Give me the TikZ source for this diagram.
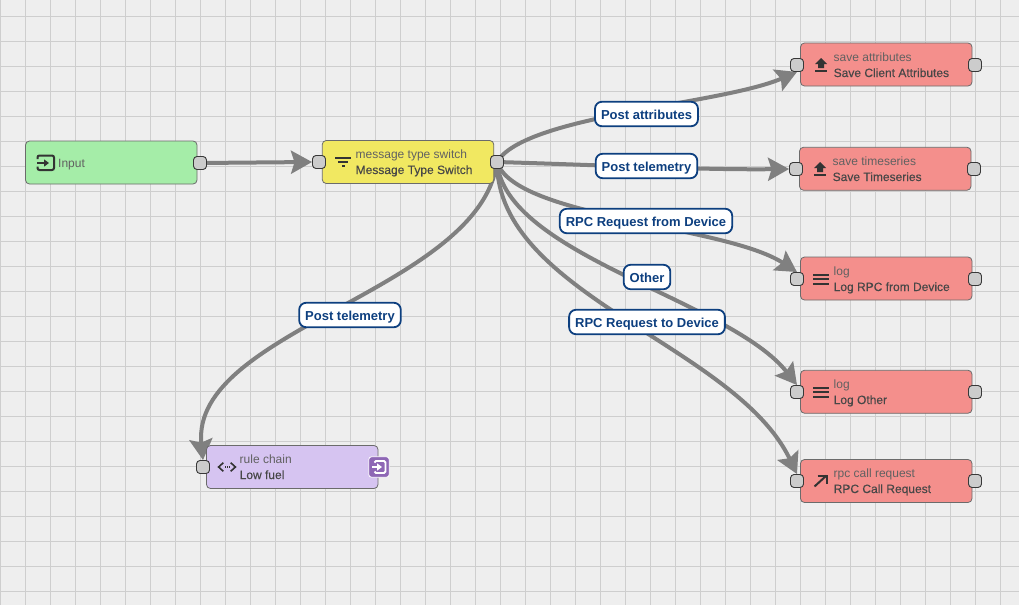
\documentclass[tikz,border=0pt]{standalone}
\usepackage{fontspec}
\setmainfont{Liberation Sans}
\newfontfamily\mediumfont[FakeBold=0.25]{Liberation Sans}
\usetikzlibrary{arrows.meta}
\pgfdeclarelayer{gridlayer}
\pgfdeclarelayer{wirelayer}
\pgfsetlayers{gridlayer,wirelayer,main}
\definecolor{canvasbg}{HTML}{EEEEEE}
\definecolor{gridgray}{HTML}{CECECE}
\definecolor{inputgreen}{HTML}{A5EDA8}
\definecolor{switchyellow}{HTML}{F1E861}
\definecolor{actionred}{HTML}{F48F8C}
\definecolor{chainpurple}{HTML}{D6C4F1}
\definecolor{badgepurple}{HTML}{8E67B5}
\definecolor{labelblue}{HTML}{0D3F7F}
\tikzset{
  ruleBox/.style={draw=black!58,line width=0.8,rounded corners=4,minimum width=171.5,minimum height=43,inner sep=0},
  port/.style={draw=black!78,line width=0.9,fill=black!20,rounded corners=3.5,minimum size=13,inner sep=0},
  wire/.style={draw=black!50,line width=4,-{Stealth[length=21,width=23,inset=3.5]}},
  wireLabel/.style={draw=labelblue,line width=1.8,fill=white,text=labelblue,rounded corners=7,minimum height=24.5,inner xsep=6,inner ysep=0,text height=11,text depth=1,font=\fontsize{13}{15}\selectfont\bfseries},
  kindText/.style={anchor=base west,inner sep=0,text=black!62,font=\fontsize{12}{14}\selectfont},
  titleText/.style={anchor=base west,inner sep=0,text=black!72,font=\fontsize{12}{14}\mediumfont},
  iconLine/.style={draw=black!80,line width=2},
  uploadIcon/.pic={
    \fill[black!80] (0,-7) -- (6,-1) -- (3,-1) -- (3,3) -- (-3,3) -- (-3,-1) -- (-6,-1) -- cycle;
    \draw[iconLine] (-6,5.5) -- (6,5.5);
  },
  menuIcon/.pic={
    \draw[iconLine] (-8,-4.5) -- (8,-4.5);
    \draw[iconLine] (-8,0) -- (8,0);
    \draw[iconLine] (-8,4.5) -- (8,4.5);
  }
}
\begin{document}
\begin{tikzpicture}[x=1pt,y=-1pt]
\useasboundingbox (0,0) rectangle (1019,605);
\begin{pgfonlayer}{gridlayer}
\fill[canvasbg] (0,0) rectangle (1019,605);
\foreach \gx in {0,...,40}
  \draw[gridgray,line width=0.8] (0.5+25*\gx,0) -- (0.5+25*\gx,605);
\foreach \gy in {0,...,23}
  \draw[gridgray,line width=0.8] (0,16.5+25*\gy) -- (1019,16.5+25*\gy);
\end{pgfonlayer}

% boxes
\node (inputBox) [ruleBox,fill=inputgreen] at (111.25,162.5) {};
\node (switchBox) [ruleBox,fill=switchyellow] at (408,162) {};
\node (attrBox) [ruleBox,fill=actionred] at (886.25,64.5) {};
\node (seriesBox) [ruleBox,fill=actionred] at (885.25,168.75) {};
\node (logRpcBox) [ruleBox,fill=actionred] at (886.25,278.5) {};
\node (logOtherBox) [ruleBox,fill=actionred] at (886.25,391.75) {};
\node (callBox) [ruleBox,fill=actionred] at (886.25,481) {};
\node (chainBox) [ruleBox,fill=chainpurple] at (292.25,467) {};

% ports
\node (inputOut) [port] at (200,163) {};
\node (switchIn) [port] at (319,162) {};
\node (switchOut) [port] at (497,162) {};
\node (attrIn) [port] at (797,65) {};
\node (attrOut) [port] at (975,65) {};
\node (seriesIn) [port] at (796,169) {};
\node (seriesOut) [port] at (974,169) {};
\node (logRpcIn) [port] at (797,279) {};
\node (logRpcOut) [port] at (975,279) {};
\node (logOtherIn) [port] at (797,392) {};
\node (logOtherOut) [port] at (975,392) {};
\node (callIn) [port] at (797,481) {};
\node (callOut) [port] at (975,481) {};
\node (chainIn) [port] at (203,467) {};

% connectors
\begin{pgfonlayer}{wirelayer}
\draw[wire] (inputOut.center) -- (switchIn.west);
\draw[wire] (switchOut.center) .. controls (525,115) and (720,105) .. (attrIn.south);
\draw[wire] (switchOut.center) .. controls (600,165) and (700,170) .. (seriesIn.west);
\draw[wire] (switchOut.center) .. controls (515,218) and (725,225) .. (logRpcIn.north);
\draw[wire] (switchOut.center) .. controls (505,255) and (730,300) .. (logOtherIn.north);
\draw[wire] (switchOut.center) .. controls (497,295) and (735,345) .. (callIn.north);
\draw[wire] (switchOut.center) .. controls (480,290) and (190,330) .. (chainIn.north);
\end{pgfonlayer}

% wire labels
\node (attrLabel) [wireLabel] at (646.5,114) {Post attributes};
\node (seriesLabel) [wireLabel] at (646.5,166) {Post telemetry};
\node (fromDevLabel) [wireLabel] at (646,221) {RPC Request from Device};
\node (otherLabel) [wireLabel] at (647,277) {Other};
\node (toDevLabel) [wireLabel] at (647,322) {RPC Request to Device};
\node (chainLabel) [wireLabel] at (350,315) {Post telemetry};

% texts
\node (inputKind) [kindText] at (58,167) {Input};
\node (switchKind) [kindText] at (355.5,158) {message type switch};
\node (switchTitle) [titleText] at (355.5,174) {Message Type Switch};
\node (attrKind) [kindText] at (833.5,61) {save attributes};
\node (attrTitle) [titleText] at (833.5,77) {Save Client Attributes};
\node (seriesKind) [kindText] at (832.5,165) {save timeseries};
\node (seriesTitle) [titleText] at (832.5,181) {Save Timeseries};
\node (logRpcKind) [kindText] at (833.5,275) {log};
\node (logRpcTitle) [titleText] at (833.5,291) {Log RPC from Device};
\node (logOtherKind) [kindText] at (833.5,388) {log};
\node (logOtherTitle) [titleText] at (833.5,404) {Log Other};
\node (callKind) [kindText] at (833.5,477) {rpc call request};
\node (callTitle) [titleText] at (833.5,493) {RPC Call Request};
\node (chainKind) [kindText] at (239.5,463) {rule chain};
\node (chainTitle) [titleText] at (239.5,479) {Low fuel};

% icons
\draw[iconLine,rounded corners=2] (37.5,159) -- (37.5,155.5) -- (54,155.5) -- (54,170) -- (37.5,170) -- (37.5,166.5);
\draw[iconLine,-{Stealth[length=5,width=7,inset=0]}] (37,163) -- (49,163);
\draw[iconLine] (335,157.5) -- (351,157.5);
\draw[iconLine] (338,161.5) -- (348,161.5);
\draw[iconLine] (342,165.5) -- (345,165.5);
\pic at (821,65) {uploadIcon};
\pic at (820,169) {uploadIcon};
\pic at (821,279) {menuIcon};
\pic at (821,392) {menuIcon};
\draw[iconLine] (814.5,486.5) -- (826.5,475.5);
\draw[iconLine] (817.5,475.5) -- (826.5,475.5) -- (826.5,484);
\draw[iconLine,line width=1.6] (223.3,462.7) -- (218.6,467) -- (223.3,471.3);
\draw[iconLine,line width=1.6] (230.7,462.7) -- (235.4,467) -- (230.7,471.3);
\foreach \dx in {225,227,229}
  \fill[black!80] (\dx,466.3) rectangle (\dx+1,467.7);
\draw[white,fill=badgepurple,line width=0.8,rounded corners=3] (368.7,456.7) rectangle (389.3,477.3);
\draw[white,line width=1.8,rounded corners=1.5] (374.5,462.5) -- (374.5,461) -- (385.5,461) -- (385.5,473) -- (374.5,473) -- (374.5,471.5);
\draw[white,line width=1.8,-{Stealth[length=5,width=7,inset=0]}] (372,467) -- (382,467);
\end{tikzpicture}
\end{document}
